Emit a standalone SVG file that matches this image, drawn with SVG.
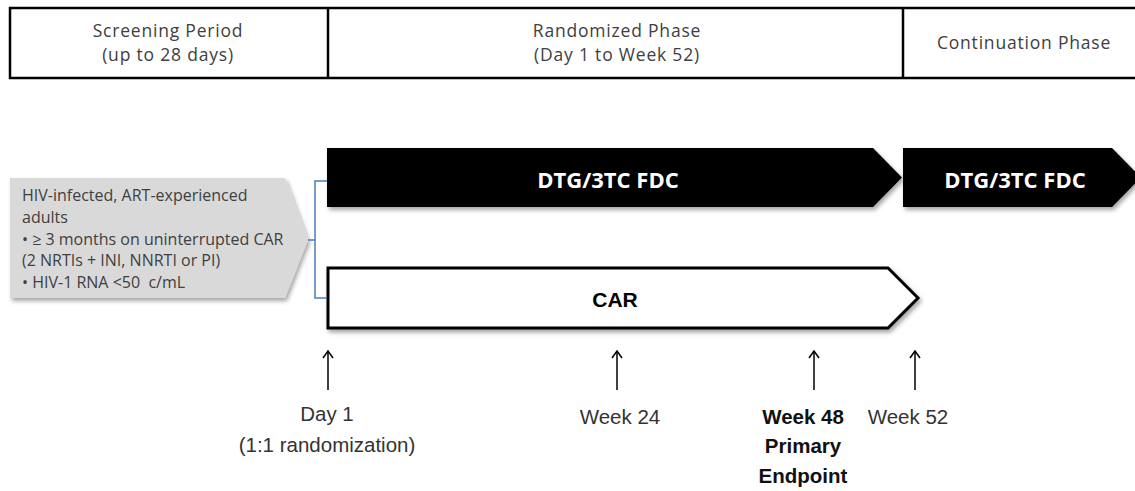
<svg xmlns="http://www.w3.org/2000/svg" width="1135" height="491" viewBox="0 0 1135 491">
<style>
.hdr{font-family:"Open Sans","Noto Sans",sans-serif;font-size:17.5px;letter-spacing:0.8px;fill:#404040;text-anchor:middle}
.box{font-family:"Open Sans","Noto Sans",sans-serif;font-size:16px;fill:#404040}
.arm{font-family:"Open Sans","Noto Sans",sans-serif;font-size:22px;font-weight:bold;fill:#ffffff;text-anchor:middle}
.car{font-family:"Liberation Sans",Arial,sans-serif;font-size:21px;font-weight:bold;fill:#000;text-anchor:middle}
.tl{font-family:"Liberation Sans",Arial,sans-serif;font-size:20.5px;fill:#333;text-anchor:middle}
.tlb{font-family:"Liberation Sans",Arial,sans-serif;font-size:20.5px;font-weight:bold;fill:#111;text-anchor:middle}
.ar{stroke:#000;stroke-width:1.5;fill:none}
.br{stroke:#4a7ebb;stroke-width:1.5;fill:none}
</style>
<defs>
<filter id="sh" x="-5%" y="-20%" width="115%" height="150%">
<feDropShadow dx="2" dy="3" stdDeviation="2" flood-color="#000" flood-opacity="0.35"/>
</filter>
<marker id="ah" markerWidth="12" markerHeight="12" refX="6" refY="1" orient="0" markerUnits="userSpaceOnUse" viewBox="0 0 12 12">
<polyline points="1,8 6,1 11,8" fill="none" stroke="#000" stroke-width="1.5"/>
</marker>
</defs>
<rect width="1135" height="491" fill="#fff"/>
<g id="header">
<rect x="10" y="8" width="1140" height="70" fill="#fff" stroke="#000" stroke-width="2.5"/>
<line x1="328" y1="8" x2="328" y2="78" stroke="#000" stroke-width="2.5"/>
<line x1="903" y1="8" x2="903" y2="78" stroke="#000" stroke-width="2.5"/>
<text class="hdr" x="168" y="37">Screening Period</text>
<text class="hdr" x="168" y="61">(up to 28 days)</text>
<text class="hdr" x="617" y="37">Randomized Phase</text>
<text class="hdr" x="617" y="61">(Day 1 to Week 52)</text>
<text class="hdr" x="1024" y="49">Continuation Phase</text>
</g>
<g id="population">
<polygon points="10,178 285,178 308,240 285,298 10,298" fill="#d9d9d9" filter="url(#sh)"/>
<text class="box" x="22" y="201">HIV-infected, ART-experienced</text>
<text class="box" x="22" y="223">adults</text>
<text class="box" x="22" y="245">• ≥ 3 months on uninterrupted CAR</text>
<text class="box" x="22" y="266">(2 NRTIs + INI, NNRTI or PI)</text>
<text class="box" x="22" y="288">• HIV-1 RNA &lt;50&#160; c/mL</text>
</g>
<g id="arm-dtg">
<polygon points="327,148 873,148 902,177.5 873,207 327,207" fill="#000" filter="url(#sh)"/>
<text class="arm" x="608" y="188">DTG/3TC FDC</text>
</g>
<g id="arm-dtg-continuation">
<polygon points="903,148 1112,148 1141,177.5 1112,207 903,207" fill="#000" filter="url(#sh)"/>
<text class="arm" x="1015" y="188">DTG/3TC FDC</text>
</g>
<g id="arm-car">
<polygon points="328,268 888,268 918,298 888,328 328,328" fill="#fff" stroke="#000" stroke-width="3" filter="url(#sh)"/>
<text class="car" x="615" y="307">CAR</text>
</g>
<g id="connectors">
<polyline class="br" points="327,181 315,181 315,298 327,298"/>
<line class="br" x1="308" y1="240" x2="315" y2="240"/>
<line class="ar" x1="328" y1="390" x2="328" y2="351" marker-end="url(#ah)"/>
<line class="ar" x1="617" y1="390" x2="617" y2="351" marker-end="url(#ah)"/>
<line class="ar" x1="814" y1="390" x2="814" y2="351" marker-end="url(#ah)"/>
<line class="ar" x1="915" y1="390" x2="915" y2="351" marker-end="url(#ah)"/>
</g>
<g id="label-day1">
<text class="tl" x="327" y="421">Day 1</text>
<text class="tl" x="327" y="452">(1:1 randomization)</text>
</g>
<g id="label-week24">
<text class="tl" x="620" y="424">Week 24</text>
</g>
<g id="label-week48">
<text class="tlb" x="803" y="424">Week 48</text>
<text class="tlb" x="803" y="453">Primary</text>
<text class="tlb" x="803" y="483">Endpoint</text>
</g>
<g id="label-week52">
<text class="tl" x="908" y="424">Week 52</text>
</g>
</svg>
